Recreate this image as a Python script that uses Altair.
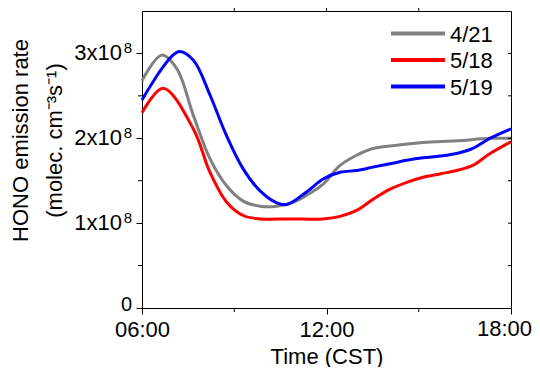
import altair as alt
import pandas as pd

hours_a = [6.0, 6.64, 7.13, 7.67, 8.21, 8.75, 9.29, 9.84, 10.38, 10.91, 11.36, 11.89, 12.44, 12.98, 13.51, 14.07, 15.14, 16.23, 17.32, 18.0]
vals_a = [2.68, 2.98, 2.82, 2.27, 1.76, 1.44, 1.26, 1.20, 1.20, 1.245, 1.33, 1.46, 1.68, 1.80, 1.88, 1.91, 1.95, 1.97, 2.0, 2.0]

hours_b = [6.0, 6.69, 7.67, 8.21, 8.75, 9.29, 9.84, 10.81, 11.89, 12.44, 12.98, 13.51, 14.07, 14.61, 15.14, 15.69, 16.23, 16.76, 17.32, 18.0]
vals_b = [2.30, 2.59, 2.11, 1.60, 1.25, 1.09, 1.05, 1.05, 1.05, 1.08, 1.15, 1.28, 1.40, 1.48, 1.54, 1.58, 1.62, 1.68, 1.82, 1.96]

hours_c = [6.0, 7.18, 7.67, 8.21, 8.75, 9.29, 9.84, 10.38, 10.71, 11.36, 11.89, 12.44, 12.98, 13.51, 14.07, 14.61, 15.14, 15.69, 16.23, 16.76, 17.32, 18.0]
vals_c = [2.45, 3.02, 2.92, 2.51, 2.03, 1.64, 1.38, 1.24, 1.22, 1.37, 1.52, 1.60, 1.62, 1.66, 1.70, 1.74, 1.77, 1.79, 1.82, 1.88, 2.0, 2.11]

series = ["4/21", "5/18", "5/19"]
colors = ["#808080", "#ff0000", "#0000ff"]

x_major = [6, 12]
x_last = [18]
x_minor = [9, 15]
y_major_labels = ["1x10", "2x10", "3x10"]
y_major = [1e8, 2e8, 3e8]
y_all_ticks = [0.5e8, 1e8, 1.5e8, 2e8, 2.5e8, 3e8]
y_minor = [0.5e8, 1.5e8, 2.5e8]

rows = []
for name, hs, vs in zip(series, [hours_a, hours_b, hours_c], [vals_a, vals_b, vals_c]):
    for h, v in zip(hs, vs):
        rows.append({"series": name, "hour": h, "value": v * 1e8})
df = pd.DataFrame(rows)

font = "Liberation Sans"
W, H = 369, 297

xscale = alt.Scale(domain=[6, 18], nice=False, zero=False)
yscale = alt.Scale(domain=[0, 3.5e8], nice=False)
cscale = alt.Scale(domain=series, range=colors)

lines = alt.Chart(df).mark_line(strokeWidth=3, interpolate="catmull-rom").encode(
    x=alt.X("hour:Q", scale=xscale,
            axis=alt.Axis(title="Time (CST)", values=x_major + x_last,
                          labelExpr="datum.value == 18 ? '' : (datum.value < 10 ? '0' : '') + datum.value + ':00'",
                          grid=False, domainColor="black", tickColor="black", tickSize=6,
                          labelFontSize=22, titleFontSize=22, titleFontWeight="normal",
                          labelColor="black", titleColor="black", labelFont=font, titleFont=font,
                          labelFlush=False, labelPadding=5, titlePadding=6)),
    y=alt.Y("value:Q", scale=yscale,
            axis=alt.Axis(title=["HONO emission rate", "(molec. cm⁻³s⁻¹)"],
                          values=[0] + y_major, labels=False,
                          grid=False, domainColor="black", tickColor="black", tickSize=6,
                          titleFontSize=22, titleFontWeight="normal",
                          titleColor="black", titleFont=font,
                          titleX=-122, titleY=129, titleBaseline="middle", titleLineHeight=34,
                          titleAlign="center")),
    color=alt.Color("series:N", scale=cscale, legend=None),
)

last_label = alt.Chart(pd.DataFrame({"hour": x_last, "label": ["18:00"]})).mark_text(
    align="right", baseline="top", fontSize=22, font=font, color="black", dx=21, dy=11).encode(
    x=alt.X("hour:Q", scale=xscale), y=alt.value(H), text="label:N")

ylab_df = pd.DataFrame({"value": y_major, "label": y_major_labels})
ylab_main = alt.Chart(ylab_df).mark_text(align="right", baseline="alphabetic", fontSize=22,
                                         font=font, color="black", dx=-20, dy=7).encode(
    x=alt.value(0), y=alt.Y("value:Q", scale=yscale), text="label:N")
ylab_sup = alt.Chart(ylab_df).mark_text(align="right", baseline="alphabetic", fontSize=15,
                                        font=font, color="black", dx=-10, dy=0).encode(
    x=alt.value(0), y=alt.Y("value:Q", scale=yscale), text=alt.value("8"))
ylab_zero = alt.Chart(pd.DataFrame({"value": [0]})).mark_text(
    align="right", baseline="alphabetic", fontSize=20, font=font, color="black", dx=-10, dy=3).encode(
    x=alt.value(0), y=alt.Y("value:Q", scale=yscale), text=alt.value("0"))

ymin_df = pd.DataFrame({"value": y_minor})
left_minor = alt.Chart(ymin_df).mark_rule(color="black", strokeWidth=1).encode(
    x=alt.value(-4), x2=alt.value(0), y=alt.Y("value:Q", scale=yscale))
right_ticks = alt.Chart(pd.DataFrame({"value": y_all_ticks})).mark_rule(color="black", strokeWidth=1).encode(
    x=alt.value(W - 3), x2=alt.value(W), y=alt.Y("value:Q", scale=yscale))

xmin_df = pd.DataFrame({"hour": x_minor})
bottom_minor = alt.Chart(xmin_df).mark_rule(color="black", strokeWidth=1).encode(
    y=alt.value(H), y2=alt.value(H + 4), x=alt.X("hour:Q", scale=xscale))
top_ticks = alt.Chart(pd.DataFrame({"hour": [9, 12, 15]})).mark_rule(color="black", strokeWidth=1).encode(
    y=alt.value(-4), y2=alt.value(0), x=alt.X("hour:Q", scale=xscale))

# manual legend
leg_df = pd.DataFrame({"series": series, "row": [0, 1, 2]})
leg_y = alt.Y("row:Q", scale=alt.Scale(domain=[0, 2], range=[22.5, 75.5], nice=False, zero=False), axis=None)
leg_lines = alt.Chart(leg_df).mark_rule(strokeWidth=4).encode(
    x=alt.value(249), x2=alt.value(303), y=leg_y,
    color=alt.Color("series:N", scale=cscale, legend=None))
leg_text = alt.Chart(leg_df).mark_text(align="left", baseline="middle", fontSize=22,
                                       font=font, color="black", dx=0, dy=1).encode(
    x=alt.value(308), y=leg_y, text="series:N")
legend = alt.layer(leg_lines, leg_text)

main = alt.layer(lines, last_label, ylab_main, ylab_sup, ylab_zero, left_minor, right_ticks,
                 bottom_minor, top_ticks)

chart = alt.layer(main, legend).resolve_scale(y="independent").properties(
    width=W, height=H,
    autosize=alt.AutoSizeParams(type="none"),
    padding={"left": 134, "top": 3, "right": 21, "bottom": 59},
).configure_view(stroke="black", strokeWidth=1)

chart.save("out.html", embed_options={"renderer": "svg", "actions": False})
